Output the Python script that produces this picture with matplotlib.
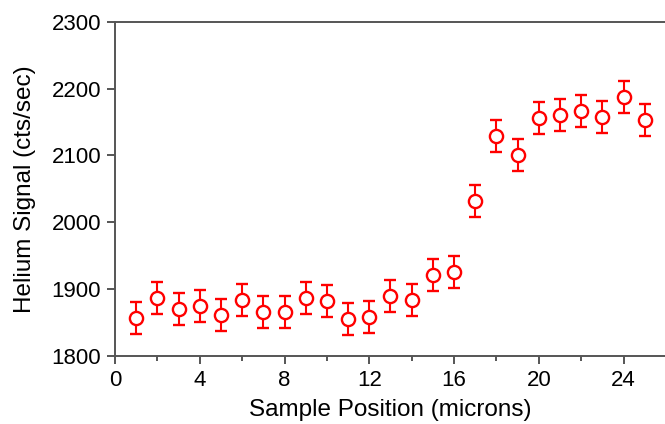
import matplotlib.pyplot as plt
from matplotlib.ticker import MultipleLocator

# Helium signal vs sample position
position = [1, 2, 3, 4, 5, 6, 7, 8, 9, 10, 11, 12, 13,
            14, 15, 16, 17, 18, 19, 20, 21, 22, 23, 24, 25]
signal = [1856, 1886, 1870, 1874, 1861, 1884, 1865, 1866, 1887, 1882, 1855, 1858, 1890,
          1883, 1921, 1926, 2032, 2129, 2101, 2156, 2160, 2166, 2157, 2188, 2153]
error = [24, 24, 24, 24, 24, 24, 24, 24, 24, 24, 24, 24, 24,
         24, 24, 24, 24, 24, 24, 24, 24, 24, 24, 24, 24]

plt.rcParams['font.family'] = ['Liberation Sans', 'DejaVu Sans']

fig = plt.figure(figsize=(6.65, 4.24), dpi=100, facecolor='white')
ax = fig.add_axes([0.1729, 0.1611, 0.8286, 0.7870])

ax.errorbar(position, signal, yerr=error, fmt='o', color='#ff0000',
            markerfacecolor='white', markeredgecolor='#ff0000',
            markersize=9.5, markeredgewidth=1.7, elinewidth=1.5,
            capsize=4, capthick=1.5)

ax.set_xlim(0, 26)
ax.set_ylim(1800, 2300)
ax.xaxis.set_major_locator(MultipleLocator(4))
ax.xaxis.set_minor_locator(MultipleLocator(2))
ax.yaxis.set_major_locator(MultipleLocator(100))

spine_col = '#555555'
for s in ax.spines.values():
    s.set_color(spine_col)
    s.set_linewidth(1.4)

ax.tick_params(axis='both', which='major', direction='out', length=6,
               width=1.4, color=spine_col, labelsize=16, pad=4)
ax.tick_params(axis='x', which='minor', direction='out', length=3.5,
               width=1.4, color=spine_col)

ax.set_xlabel('Sample Position (microns)', fontsize=17.5, labelpad=6)
ax.set_ylabel('Helium Signal (cts/sec)', fontsize=17.5, labelpad=11)

plt.savefig('out.png', dpi=100)
plt.close()
